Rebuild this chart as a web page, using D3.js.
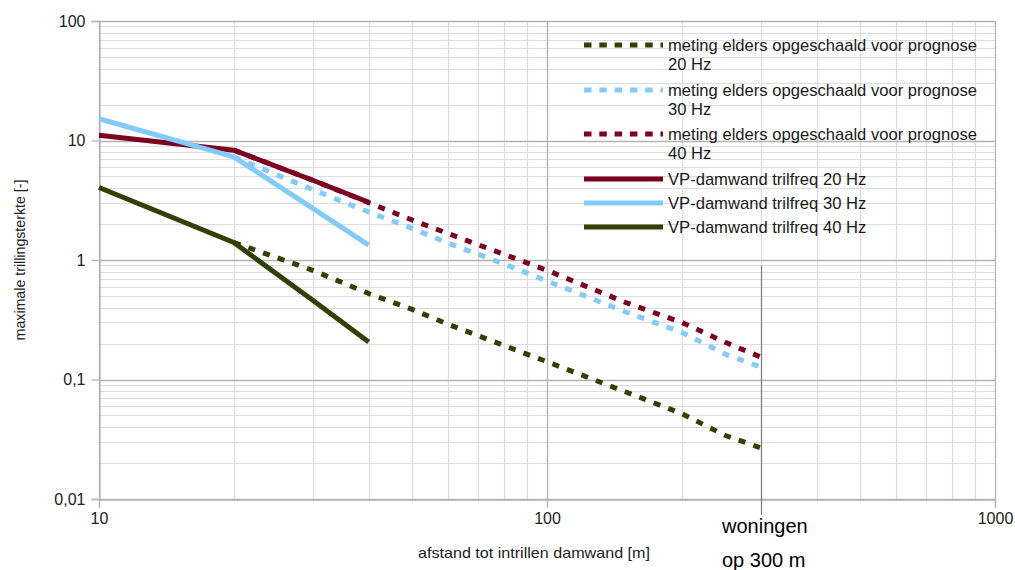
<!DOCTYPE html>
<html><head><meta charset="utf-8">
<script src="https://cdn.jsdelivr.net/npm/d3@7"></script>
<style>
html,body{margin:0;padding:0;background:#fff;}
svg{display:block;font-family:"Liberation Sans",Arial,sans-serif;}
</style></head>
<body>
<svg id="c" width="1015" height="570"></svg>
<script>
// ---- data ----
const distSolid = [10, 20, 30, 40];
const vp20 = [11.05, 8.3, 4.65, 3.04];
const vp30 = [15.2, 7.3, 2.7, 1.33];
const vp40 = [4.04, 1.40, 0.46, 0.206];

const distProg = [20, 30, 40, 50, 60, 80, 100, 150, 200, 250, 300];
const prog20 = [1.40, 0.82, 0.524, 0.386, 0.291, 0.193, 0.141, 0.0786, 0.0518, 0.034, 0.0268];
const prog30 = [7.3, 3.88, 2.52, 1.84, 1.39, 0.93, 0.667, 0.367, 0.248, 0.163, 0.127];
const prog40 = [8.3, 4.65, 3.02, 2.16, 1.67, 1.12, 0.82, 0.44, 0.30, 0.205, 0.154];

const seriesNames = [
  "meting elders opgeschaald voor prognose 20 Hz",
  "meting elders opgeschaald voor prognose 30 Hz",
  "meting elders opgeschaald voor prognose 40 Hz",
  "VP-damwand trilfreq 20 Hz",
  "VP-damwand trilfreq 30 Hz",
  "VP-damwand trilfreq 40 Hz"
];
const yTickValues = [0.01, 0.1, 1, 10, 100];
const yTickLabels = ["0,01", "0,1", "1", "10", "100"];
const xTickValues = [10, 100, 1000];
const xTickLabels = ["10", "100", "1000"];
const xTitle = "afstand tot intrillen damwand [m]";
const yTitle = "maximale trillingsterkte [-]";
const markerX = 300;
const markerTop = 0.9;
const markerLabel = ["woningen", "op 300 m"];

// ---- layout ----
const L = 99, R = 995, T = 21, B = 499;
const svg = d3.select("#c");
const x = d3.scaleLog().domain([10, 1000]).range([L, R]);
const y = d3.scaleLog().domain([0.01, 100]).range([B, T]);

const colDkGreen = "#314004", colBlue = "#83caff", colRed = "#7e0021";

// minor grid
const minorX = [], minorY = [];
[10, 100].forEach(d => { for (let k = 2; k <= 9; k++) minorX.push(d * k); });
[0.01, 0.1, 1, 10].forEach(d => { for (let k = 2; k <= 9; k++) minorY.push(d * k); });
const g = svg.append("g");
g.selectAll(".mx").data(minorX).enter().append("line")
  .attr("x1", d => Math.round(x(d)) + 0.5).attr("x2", d => Math.round(x(d)) + 0.5)
  .attr("y1", T).attr("y2", B).attr("stroke", "#dddddd").attr("stroke-width", 1.2);
g.selectAll(".my").data(minorY).enter().append("line")
  .attr("y1", d => Math.round(y(d)) + 0.5).attr("y2", d => Math.round(y(d)) + 0.5)
  .attr("x1", L).attr("x2", R).attr("stroke", "#dddddd").attr("stroke-width", 1.2);
// major grid
g.selectAll(".Mx").data(xTickValues).enter().append("line")
  .attr("x1", d => Math.round(x(d)) + 0.5).attr("x2", d => Math.round(x(d)) + 0.5)
  .attr("y1", T).attr("y2", B).attr("stroke", "#b3b3b3").attr("stroke-width", 1.3);
g.selectAll(".My").data(yTickValues).enter().append("line")
  .attr("y1", d => Math.round(y(d)) + 0.5).attr("y2", d => Math.round(y(d)) + 0.5)
  .attr("x1", L).attr("x2", R).attr("stroke", "#b3b3b3").attr("stroke-width", 1.3);

// axes
const yAxis = d3.axisLeft(y).tickValues(yTickValues)
  .tickFormat((d, i) => yTickLabels[i]).tickSize(8).tickPadding(6);
const ya = svg.append("g").attr("transform", `translate(${L + 0.5},0)`).call(yAxis);
const xAxis = d3.axisBottom(x).tickValues(xTickValues)
  .tickFormat((d, i) => xTickLabels[i]).tickSize(8).tickPadding(5);
const xa = svg.append("g").attr("transform", `translate(0,${B + 0.5})`).call(xAxis);
[ya, xa].forEach(a => {
  a.selectAll("path").attr("stroke", "#b3b3b3").attr("stroke-width", 1.3);
  a.selectAll("line").attr("stroke", "#b3b3b3").attr("stroke-width", 1.3);
  a.selectAll("text").attr("font-size", 16).attr("fill", "#222")
    .attr("font-family", "Liberation Sans, Arial, sans-serif");
});

// titles
svg.append("text").attr("x", (L + R) / 2 - 13).attr("y", 558)
  .attr("text-anchor", "middle").attr("font-size", 14.5).attr("fill", "#222")
  .attr("textLength", 232).attr("lengthAdjust", "spacingAndGlyphs")
  .text(xTitle);
svg.append("text").attr("transform", `translate(25,${260}) rotate(-90)`)
  .attr("text-anchor", "middle").attr("font-size", 14.2).attr("fill", "#222")
  .text(yTitle);

// series
const line = d3.line().x(d => x(d[0])).y(d => y(d[1]));
const zip = (xs, ys) => xs.map((v, i) => [v, ys[i]]);
const series = [
  { name: seriesNames[0], data: zip(distProg, prog20), color: colDkGreen, dash: true },
  { name: seriesNames[1], data: zip(distProg, prog30), color: colBlue, dash: true },
  { name: seriesNames[2], data: zip(distProg, prog40), color: colRed, dash: true },
  { name: seriesNames[3], data: zip(distSolid, vp20), color: colRed, dash: false },
  { name: seriesNames[4], data: zip(distSolid, vp30), color: colBlue, dash: false },
  { name: seriesNames[5], data: zip(distSolid, vp40), color: colDkGreen, dash: false }
];
const plot = svg.append("g");
series.forEach(s => {
  plot.append("path").datum(s.data).attr("d", line)
    .attr("fill", "none").attr("stroke", s.color).attr("stroke-width", 5)
    .attr("stroke-linejoin", "round")
    .attr("stroke-dasharray", s.dash ? "7,8.5" : null);
});

// marker line
svg.append("line").attr("x1", Math.round(x(markerX)) + 0.5).attr("x2", Math.round(x(markerX)) + 0.5)
  .attr("y1", y(markerTop)).attr("y2", B + 16).attr("stroke", "#7a7a7a").attr("stroke-width", 1.2);
svg.append("text").attr("x", 722).attr("y", 533).attr("font-size", 20).attr("fill", "#000")
  .text(markerLabel[0]);
svg.append("text").attr("x", 722).attr("y", 567).attr("font-size", 20).attr("fill", "#000")
  .text(markerLabel[1]);

// legend
const legRows = [
  { s: series[0], y: 45, lines: ["meting elders opgeschaald voor prognose", "20 Hz"] },
  { s: series[1], y: 90, lines: ["meting elders opgeschaald voor prognose", "30 Hz"] },
  { s: series[2], y: 134, lines: ["meting elders opgeschaald voor prognose", "40 Hz"] },
  { s: series[3], y: 179, lines: ["VP-damwand trilfreq 20 Hz"] },
  { s: series[4], y: 203, lines: ["VP-damwand trilfreq 30 Hz"] },
  { s: series[5], y: 227, lines: ["VP-damwand trilfreq 40 Hz"] }
];
const leg = svg.append("g");
legRows.forEach(r => {
  leg.append("line").attr("x1", 584).attr("x2", 663).attr("y1", r.y).attr("y2", r.y)
    .attr("stroke", r.s.color).attr("stroke-width", 5)
    .attr("stroke-dasharray", r.s.dash ? "7.5,7.8" : null);
  r.lines.forEach((t, i) => {
    leg.append("text").attr("x", 668).attr("y", r.y + 6 + i * 19)
      .attr("font-size", 16.6).attr("fill", "#1a1a1a").text(t);
  });
});
</script>
</body></html>
